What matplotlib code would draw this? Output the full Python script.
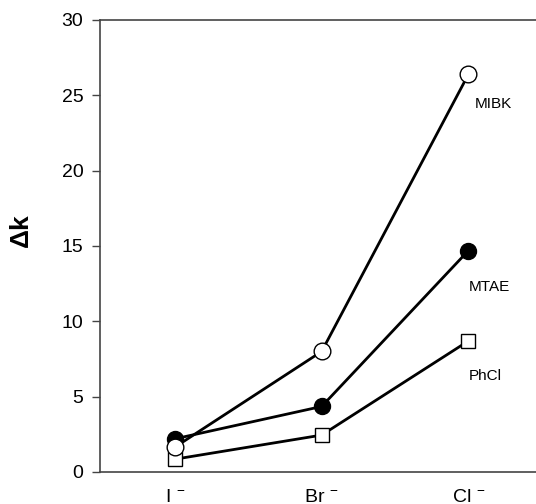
import matplotlib
matplotlib.use("Agg")
import matplotlib.pyplot as plt

plt.rcParams['font.family'] = ['Liberation Sans', 'DejaVu Sans']
plt.rcParams['mathtext.fontset'] = 'custom'
plt.rcParams['mathtext.rm'] = 'Liberation Sans'
plt.rcParams['mathtext.it'] = 'Liberation Sans:italic'
plt.rcParams['mathtext.bf'] = 'Liberation Sans:bold'

categories = ["I", "Br", "Cl"]
x_labels = [r"I $^{\mathrm{-}}$", r"Br $^{\mathrm{-}}$", r"Cl $^{\mathrm{-}}$"]
mibk = [1.65, 8.0, 26.4]
mtae = [2.2, 4.35, 14.7]
phcl = [0.85, 2.45, 8.7]
series_names = ["MIBK", "MTAE", "PhCl"]
label_y = [24.4, 12.3, 6.4]
yticks = [0, 5, 10, 15, 20, 25, 30]

fig = plt.figure(figsize=(5.36, 5.04), dpi=100)
ax = fig.add_axes([100/536, 32/504, 436/536, 452/504])
x = [1, 2, 3]
ax.plot(x, phcl, '-', color='black', lw=2.0, marker='s', ms=10.5,
        mfc='white', mec='black', mew=1.0, zorder=3)
ax.plot(x, mtae, '-', color='black', lw=2.0, marker='o', ms=11.5,
        mfc='black', mec='black', mew=1.0, zorder=4)
ax.plot(x, mibk, '-', color='black', lw=2.0, marker='o', ms=12,
        mfc='white', mec='black', mew=1.0, zorder=5)

label_dx = [0.04, 0.0, 0.0]
for name, yv, dx in zip(series_names, label_y, label_dx):
    ax.text(3.0 + dx, yv, name, fontsize=11, ha='left', va='center')

ax.set_xlim(0.49, 3.46)
ax.set_ylim(0, 30)
ax.set_yticks(yticks)
ax.set_xticks(x)
ax.set_xticklabels(x_labels, fontsize=14)
ax.tick_params(axis='x', length=0, pad=12)
ax.tick_params(axis='y', direction='out', length=6, width=1, labelsize=14,
               pad=6, colors='#444444', labelcolor='black')
for s in ['left', 'top', 'bottom']:
    ax.spines[s].set_color('#444444')
    ax.spines[s].set_linewidth(1.2)
ax.spines['right'].set_visible(False)
ax.set_ylabel(r"$\mathbf{\Delta k}$", fontsize=19)
ax.yaxis.set_label_coords(-0.152, 0.533)

fig.savefig("out.png", dpi=100)
